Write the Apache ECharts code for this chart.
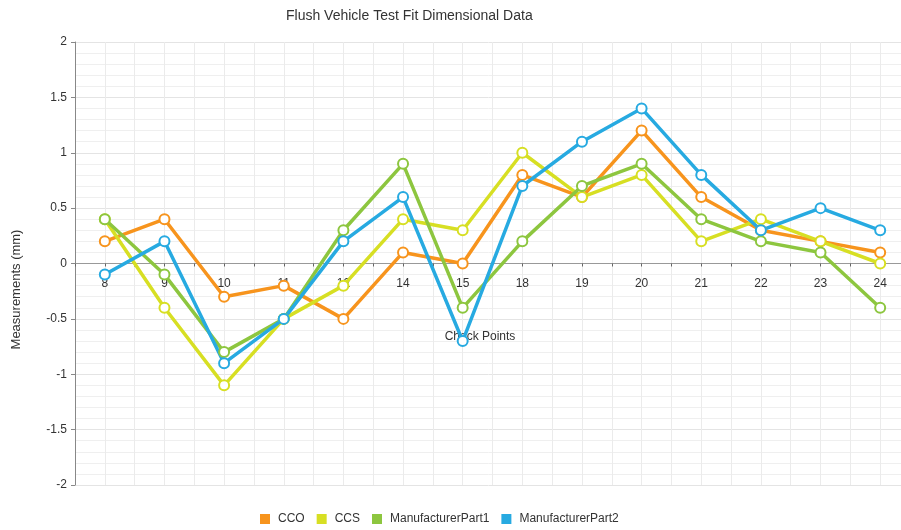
<!DOCTYPE html>
<html>
<head>
<meta charset="utf-8">
<script src="https://cdn.jsdelivr.net/npm/echarts@6/dist/echarts.min.js"></script>
<style>
  html, body { margin: 0; padding: 0; background: #fff; }
  #chart { width: 901px; height: 530px; }
</style>
</head>
<body>
<div id="chart"></div>
<script>
// check point labels along the x axis
const checkPoints = ['8', '9', '10', '11', '12', '14', '15', '18', '19', '20', '21', '22', '23', '24']

const cco = [0.2, 0.4, -0.3, -0.2, -0.5, 0.1, 0.0, 0.8, 0.6, 1.2, 0.6, 0.3, 0.2, 0.1]
const ccs = [0.4, -0.4, -1.1, -0.5, -0.2, 0.4, 0.3, 1.0, 0.6, 0.8, 0.2, 0.4, 0.2, 0.0]
const manufacturerPart1 = [0.4, -0.1, -0.8, -0.5, 0.3, 0.9, -0.4, 0.2, 0.7, 0.9, 0.4, 0.2, 0.1, -0.4]
const manufacturerPart2 = [-0.1, 0.2, -0.9, -0.5, 0.2, 0.6, -0.7, 0.7, 1.1, 1.4, 0.8, 0.3, 0.5, 0.3]

const seriesNames = ['CCO', 'CCS', 'ManufacturerPart1', 'ManufacturerPart2']
const seriesColors = ['#f7941d', '#d7df23', '#8dc63f', '#27aae1']

const font = 'Liberation Sans, Arial, sans-serif'
const myChart = echarts.init(document.getElementById('chart'))

const gridTop = 42
const gridBottom = 45
const plotHeight = 530 - gridTop - gridBottom
// move the x axis up to y = 0 (middle of -2..2)
const xAxisOffset = -plotHeight / 2

const makeSeries = (name, values, color) => ({
    name,
    type: 'line',
    data: values.map((v, i) => [i, v]),
    color,
    symbol: 'circle',
    symbolSize: 10,
    lineStyle: { width: 3.5, color },
    itemStyle: {
        color: '#fff',
        borderColor: color, // hollow marker
        borderWidth: 2
    },
    emphasis: { disabled: true }
})

const options = {
    animation: false,
    textStyle: { fontFamily: font },
    title: {
        text: 'Flush Vehicle Test Fit Dimensional Data',
        left: 281,
        top: 4,
        textStyle: { fontSize: 14, fontWeight: 'normal', color: '#333', fontFamily: font }
    },
    legend: {
        data: seriesNames.map((n, i) => ({ name: n, itemStyle: { color: seriesColors[i] } })),
        left: 255,
        top: 508,
        icon: 'rect',
        itemWidth: 8,
        itemHeight: 8,
        itemGap: 12,
        textStyle: { fontSize: 12, color: '#333', fontFamily: font, padding: [0, 0, 0, 4] }
    },
    grid: {
        left: 75,
        top: gridTop,
        width: 835,
        bottom: gridBottom,
        outerBoundsMode: 'none',
        containLabel: false
    },
    xAxis: {
        type: 'value',
        min: -0.5,
        max: 13.5,
        interval: 0.5,
        position: 'bottom',
        offset: xAxisOffset,
        name: 'Check Points',
        nameLocation: 'middle',
        nameGap: 67,
        nameTextStyle: { fontSize: 12, color: '#333', padding: [0, 25, 0, 0] },
        axisLine: { onZero: false, lineStyle: { color: '#999' } },
        axisTick: { show: true, length: 3, lineStyle: { color: '#666' } },
        axisLabel: {
            margin: 14,
            fontSize: 12,
            color: '#333',
            formatter: v => Number.isInteger(v) ? checkPoints[v] : ''
        },
        splitLine: { show: true, lineStyle: { color: '#ebebeb' } }
    },
    yAxis: {
        type: 'value',
        min: -2,
        max: 2,
        interval: 0.5,
        name: 'Measurements (mm)',
        nameLocation: 'middle',
        nameGap: 52,
        nameTextStyle: { fontSize: 13, color: '#333', padding: [0, 52, 0, 0] },
        axisLine: { show: true, onZero: false, lineStyle: { color: '#888' } },
        axisTick: { show: true, length: 4, lineStyle: { color: '#888' } },
        axisLabel: { fontSize: 12, color: '#333', margin: 8 },
        minorTick: { show: false, splitNumber: 5 },
        splitLine: { show: true, lineStyle: { color: '#e4e4e4' } },
        minorSplitLine: { show: true, lineStyle: { color: '#efefef' } }
    },
    series: [
        makeSeries(seriesNames[0], cco, seriesColors[0]),
        makeSeries(seriesNames[1], ccs, seriesColors[1]),
        makeSeries(seriesNames[2], manufacturerPart1, seriesColors[2]),
        makeSeries(seriesNames[3], manufacturerPart2, seriesColors[3])
    ]
}

myChart.setOption(options)
</script>
</body>
</html>
